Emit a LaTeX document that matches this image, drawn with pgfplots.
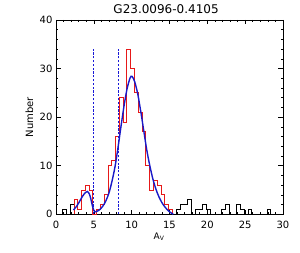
\documentclass[border=0pt]{standalone}
\usepackage{fontspec}
\setmainfont{DejaVu Sans}
\usepackage{pgfplots}
\pgfplotsset{compat=1.18}
\definecolor{hred}{RGB}{230,25,25}
\definecolor{hblue}{RGB}{25,25,200}
\definecolor{dblue}{RGB}{25,25,215}
\begin{document}
\begin{tikzpicture}
\useasboundingbox (-56pt,-38.7pt) rectangle (244pt,214.3pt);
\begin{axis}[
  at={(0,0)}, anchor=south west,
  scale only axis, width=227pt, height=194.3pt,
  xmin=0, xmax=30, ymin=0, ymax=40,
  xtick={0,5,...,30}, ytick={0,10,...,40},
  minor x tick num=4, minor y tick num=4,
  tick align=inside, tick pos=both,
  major tick length=4.5pt, minor tick length=2.3pt,
  axis line style={line width=0.7pt},
  every tick/.style={black, line width=0.6pt},
  /pgf/number format/assume math mode=true,
  tick label style={font=\fontsize{10}{12}\selectfont},
  xticklabel style={yshift=-3pt},
  every axis title shift=0pt,
  title={G23.0096-0.4105},
  title style={at={(axis description cs:0.485,1.031)}, anchor=base, yshift=0pt, font=\fontsize{12}{14}\selectfont},
  xlabel={A\textsubscript{V}},
  xlabel style={at={(axis description cs:0.454,-0.117)}, anchor=center, font=\fontsize{9}{11}\selectfont},
  ylabel={Number},
  ylabel style={at={(axis description cs:-0.117,0.5)}, anchor=center, font=\fontsize{10}{12}\selectfont},
]
% black histogram (outside the fitted range)
\addplot[const plot, black, line width=0.8pt] coordinates {
 (0.88,0)(0.88,1)(1.38,0)(1.88,2)(2.38,0)};
\addplot[const plot, black, line width=0.8pt] coordinates {
 (15.38,0)(15.88,1)(16.38,2)(16.88,2)(17.38,3)(17.88,0)(18.38,1)(18.88,1)(19.38,2)(19.88,1)(20.38,0)
 (21.88,1)(22.38,2)(22.88,0)(23.88,2)(24.38,1)(24.88,0)(25.38,1)(25.88,0)(27.88,1)(28.38,0)};
% red histogram
\addplot[const plot, hred, line width=1pt] coordinates {
 (2.38,0)(2.38,3)(2.88,1)(3.38,5)(3.88,6)(4.38,5)(4.88,0)(5.38,1)(5.88,2)(6.38,4)(6.88,10)(7.38,11)
 (7.88,16)(8.38,24)(8.88,19)(9.38,34)(9.88,30)(10.38,25)(10.88,21)(11.38,17)(11.88,10)(12.38,5)
 (12.88,7)(13.38,6)(13.88,4)(14.38,2)(14.88,1)(15.38,0)};
% dashed limits
\addplot[dblue, line width=1pt, dash pattern=on 2.2pt off 1.6pt] coordinates {(4.9,0)(4.9,34.3)};
\addplot[dblue, line width=1pt, dash pattern=on 2.2pt off 1.6pt] coordinates {(8.2,0)(8.2,34.3)};
% fitted curve
\addplot[hblue, line width=1.4pt, smooth, tension=0.5] coordinates {
 (2.3,0.9)(2.7,1.6)(3.1,2.6)(3.5,3.7)(3.9,4.5)(4.15,4.7)(4.4,4.2)(4.6,3.2)(4.8,1.8)(5.0,0.8)
 (5.15,0.5)(5.4,0.6)(5.8,1.0)(6.2,1.7)(6.6,2.8)(7.0,4.4)(7.4,6.8)(7.8,9.8)(8.2,13.8)(8.6,18.2)
 (9.0,22.4)(9.4,25.9)(9.8,28.1)(10.05,28.4)(10.4,27.3)(10.8,24.8)(11.2,21.2)(11.6,17.2)(12.0,13.2)
 (12.4,10.0)(12.8,7.3)(13.2,5.2)(13.6,3.6)(14.0,2.4)(14.4,1.5)(14.8,0.8)(15.2,0.3)(15.5,0.0)};
\end{axis}
\end{tikzpicture}
\end{document}
